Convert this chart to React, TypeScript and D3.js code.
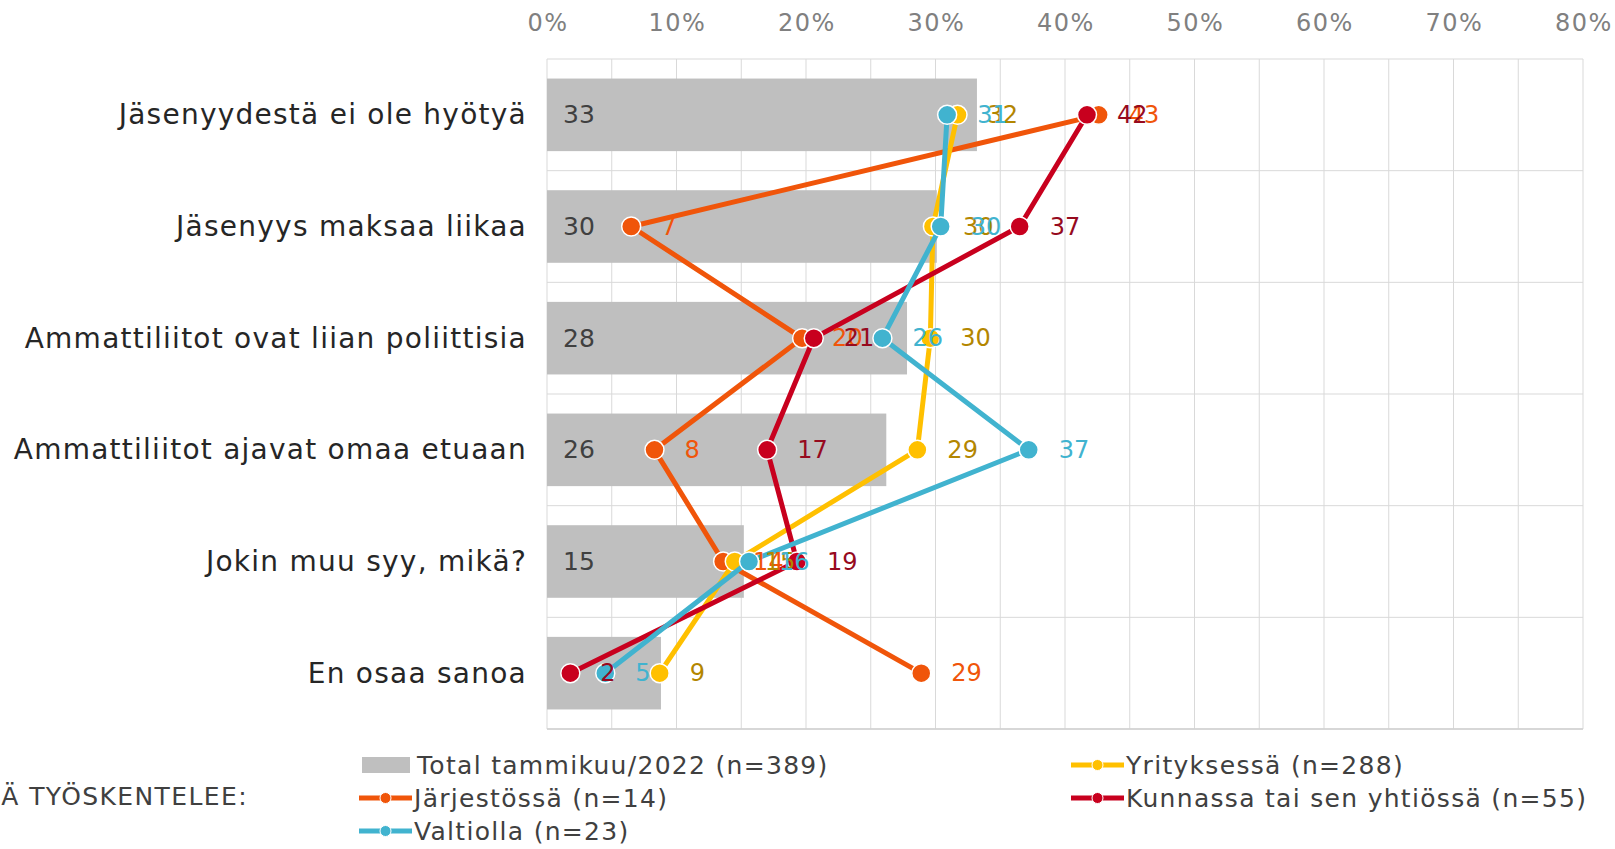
import React from "react";
import * as d3 from "d3";

const categories = [
  "Jäsenyydestä ei ole hyötyä",
  "Jäsenyys maksaa liikaa",
  "Ammattiliitot ovat liian poliittisia",
  "Ammattiliitot ajavat omaa etuaan",
  "Jokin muu syy, mikä?",
  "En osaa sanoa",
];
const totalValues = [33.2, 30.1, 27.8, 26.2, 15.2, 8.8];
const jarjestossaValues = [42.6, 6.5, 19.7, 8.3, 13.6, 28.9];
const yrityksessaValues = [31.7, 29.8, 29.6, 28.6, 14.5, 8.7];
const kunnassaValues = [41.7, 36.5, 20.6, 17.0, 19.3, 1.8];
const valtiollaValues = [30.9, 30.4, 25.9, 37.2, 15.6, 4.5];
const tickValues = [0, 10, 20, 30, 40, 50, 60, 70, 80];
const gridValues = d3.range(0, 81, 5);

const totalName = "Total tammikuu/2022 (n=389)";
const series = [
  { name: "Järjestössä (n=14)", values: jarjestossaValues, color: "#F0550A", labelColor: "#F0550A" },
  { name: "Yrityksessä (n=288)", values: yrityksessaValues, color: "#FFC000", labelColor: "#B38600" },
  { name: "Kunnassa tai sen yhtiössä (n=55)", values: kunnassaValues, color: "#C8001E", labelColor: "#960A1E" },
  { name: "Valtiolla (n=23)", values: valtiollaValues, color: "#41B3CF", labelColor: "#41B3CF" },
];

const FONT = "'DejaVu Sans', Verdana, sans-serif";

export default function App() {
  const W = 1615, H = 849;
  const x = d3.scaleLinear().domain([0, 80]).range([547, 1583]);
  const y = d3.scaleBand<string>().domain(categories).range([59, 729]).padding(0);
  const bw = y.bandwidth();
  const barH = bw * 0.65;
  const cy = (c: string) => (y(c) as number) + bw / 2;
  const line = d3.line<number>().x((v) => x(v)).y((_, i) => cy(categories[i]));

  const legendItems = [
    { kind: "bar", name: totalName, color: "#BFBFBF", lx: 362, ly: 765 },
    { kind: "line", name: series[0].name, color: series[0].color, lx: 359, ly: 798 },
    { kind: "line", name: series[3].name, color: series[3].color, lx: 359, ly: 831 },
    { kind: "line", name: series[1].name, color: series[1].color, lx: 1071, ly: 765 },
    { kind: "line", name: series[2].name, color: series[2].color, lx: 1071, ly: 798 },
  ];

  return (
    <svg width={W} height={H} style={{ position: "absolute", left: 0, top: 0, background: "#fff" }} fontFamily={FONT}>
      {/* grid */}
      {gridValues.map((g) => (
        <line key={"v" + g} x1={x(g)} x2={x(g)} y1={59} y2={729} stroke="#D9D9D9" strokeWidth={1} />
      ))}
      {d3.range(categories.length + 1).map((i) => (
        <line key={"h" + i} x1={x(0)} x2={x(80)} y1={59 + i * bw} y2={59 + i * bw} stroke="#D9D9D9" strokeWidth={1} />
      ))}
      <line x1={x(0)} x2={x(80)} y1={729} y2={729} stroke="#D0D0D0" strokeWidth={1.5} />
      {/* ticks */}
      {tickValues.map((t) => (
        <text key={"t" + t} x={x(t) + 1} y={23} textAnchor="middle" dominantBaseline="central" fontSize={24} letterSpacing={1.5} fill="#808080">
          {t}%
        </text>
      ))}
      {/* category labels */}
      {categories.map((c) => (
        <text key={"c" + c} x={527} y={cy(c)} textAnchor="end" dominantBaseline="central" fontSize={28} letterSpacing={1.25} fill="#262626">
          {c}
        </text>
      ))}
      {/* bars */}
      {categories.map((c, i) => (
        <rect key={"b" + c} x={x(0)} y={cy(c) - barH / 2} width={x(totalValues[i]) - x(0)} height={barH} fill="#BFBFBF" />
      ))}
      {categories.map((c, i) => (
        <text key={"bl" + c} x={x(0) + 16} y={cy(c)} dominantBaseline="central" fontSize={25} fill="#404040">
          {Math.round(totalValues[i])}
        </text>
      ))}
      {/* lines */}
      {series.map((s) => (
        <g key={s.name}>
          <path d={line(s.values) || ""} fill="none" stroke={s.color} strokeWidth={5} strokeLinejoin="round" />
          {s.values.map((v, i) => (
            <circle key={i} cx={x(v)} cy={cy(categories[i])} r={9.5} fill={s.color} stroke="#fff" strokeWidth={1.5} />
          ))}
        </g>
      ))}
      {series.map((s) =>
        s.values.map((v, i) => (
          <text key={s.name + "l" + i} x={x(v) + 30} y={cy(categories[i])} dominantBaseline="central" fontSize={24} fill={s.labelColor}>
            {Math.round(v)}
          </text>
        ))
      )}
      {/* legend */}
      <text x={248} y={796} textAnchor="end" dominantBaseline="central" fontSize={25} letterSpacing={1.4} fill="#404040">
        Ä TYÖSKENTELEE:
      </text>
      {legendItems.map((it) => (
        <g key={it.name}>
          {it.kind === "bar" ? (
            <rect x={it.lx} y={it.ly - 8} width={48} height={16} fill={it.color} />
          ) : (
            <g>
              <line x1={it.lx} x2={it.lx + 53} y1={it.ly} y2={it.ly} stroke={it.color} strokeWidth={5} />
              <circle cx={it.lx + 26.5} cy={it.ly} r={5.5} fill={it.color} stroke="#fff" strokeWidth={1} />
            </g>
          )}
          <text x={it.lx + 55} y={it.ly} dominantBaseline="central" fontSize={25} letterSpacing={1.3} fill="#404040">
            {it.name}
          </text>
        </g>
      ))}
    </svg>
  );
}
